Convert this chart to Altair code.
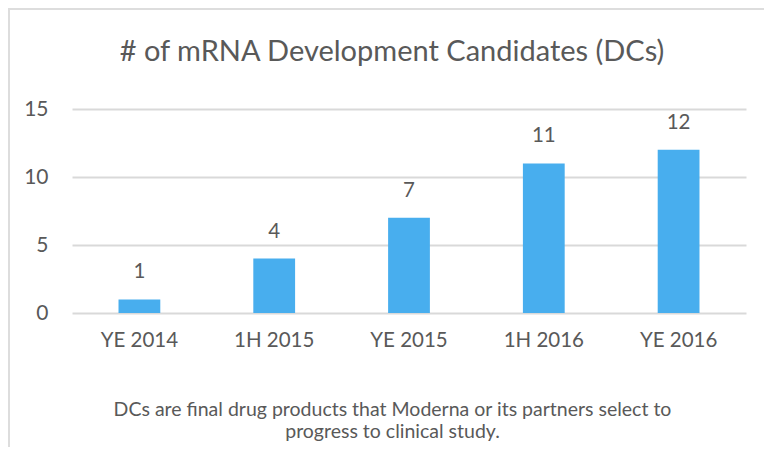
import altair as alt
import pandas as pd

categories = ["YE 2014", "1H 2015", "YE 2015", "1H 2016", "YE 2016"]
values = [1, 4, 7, 11, 12]
title_text = "# of mRNA Development Candidates (DCs)"
caption = ["DCs are final drug products that Moderna or its partners select to",
           "progress to clinical study."]

df = pd.DataFrame({"period": categories, "dcs": values})

FONT = "Lato"
TXT = "#595959"
GRID = "#D9D9D9"
BAR = "#48AEEE"

x = alt.X("period:N", sort=categories,
          scale=alt.Scale(paddingInner=0.69, paddingOuter=0.345),
          axis=alt.Axis(title=caption, labelAngle=0, labelFontSize=20.5, labelColor=TXT,
                        labelFont=FONT, labelPadding=17, ticks=False, domain=False,
                        titleFont=FONT, titleFontSize=19.5, titleColor=TXT,
                        titleFontWeight="normal", titleX=320, titleY=102,
                        titleAlign="center", titleAnchor="start",
                        titleBaseline="alphabetic", titleLineHeight=22))
y = alt.Y("dcs:Q", scale=alt.Scale(domain=[0, 15], nice=False),
          axis=alt.Axis(title=None, values=[0, 5, 10, 15], labelFontSize=21,
                        labelColor=TXT, labelFont=FONT, labelPadding=24,
                        ticks=False, domain=False, gridColor=GRID, gridWidth=2))

bars = alt.Chart(df).mark_bar(color=BAR).encode(x=x, y=y)
labels = alt.Chart(df).mark_text(font=FONT, fontSize=20.5, color=TXT,
                                 baseline="alphabetic", dy=-21).encode(
    x=alt.X("period:N", sort=categories), y="dcs:Q", text="dcs:Q")

frame = alt.Chart(alt.Data(values=[{}])).mark_rect(
    fill=None, stroke="#DDDDDD", strokeWidth=2).encode(
    x=alt.value(-63), x2=alt.value(800), y=alt.value(-100), y2=alt.value(500))

title = alt.Chart(alt.Data(values=[{"t": title_text}])).mark_text(
    font=FONT, fontSize=29, color=TXT, baseline="alphabetic", align="center").encode(
    x=alt.value(320), y=alt.value(-48), text="t:N")

chart = alt.layer(bars, labels, frame, title).properties(
    width=674, height=204,
    autosize=alt.AutoSizeParams(type="none"),
    padding={"left": 64, "top": 101, "right": 18, "bottom": 134},
).configure_view(stroke=None)

chart.save("out.html", embed_options={"renderer": "svg", "actions": False})
